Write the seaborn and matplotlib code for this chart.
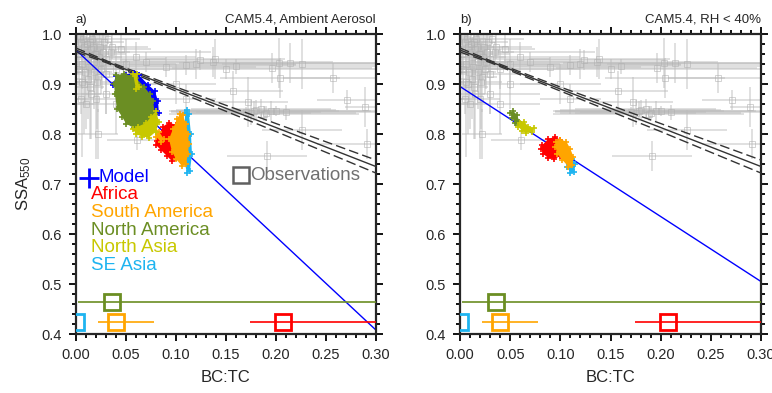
import matplotlib
matplotlib.use("Agg")
import matplotlib.pyplot as plt
import matplotlib.ticker as mticker
import seaborn as sns
import numpy as np
import pandas as pd

# ---------------- data ----------------
# grey observational points (BC:TC, SSA) with error bars
obs_x = [0.005, 0.008, 0.010, 0.012, 0.015, 0.006, 0.018, 0.020, 0.003, 0.025,
         0.012, 0.022, 0.008, 0.030, 0.028, 0.016, 0.035, 0.040, 0.015, 0.010,
         0.020, 0.005, 0.045, 0.050, 0.060, 0.070,
         0.004, 0.007, 0.011, 0.014, 0.017, 0.019, 0.023, 0.026, 0.009, 0.013,
         0.002, 0.024, 0.027, 0.032, 0.006, 0.018, 0.014, 0.021, 0.030, 0.036,
         0.090, 0.120, 0.137, 0.124, 0.150, 0.196, 0.203, 0.214, 0.226, 0.204,
         0.257, 0.139, 0.160, 0.110,
         0.170, 0.180, 0.190, 0.200, 0.185, 0.175, 0.195, 0.210, 0.178, 0.188,
         0.271, 0.289, 0.157, 0.172,
         0.191, 0.226, 0.291, 0.061, 0.040, 0.030, 0.050, 0.022, 0.100, 0.110]
obs_y = [0.985, 0.975, 0.965, 0.955, 0.970, 0.940, 0.945, 0.960, 0.930, 0.930,
         0.910, 0.915, 0.900, 0.950, 0.985, 0.990, 0.965, 0.930, 0.880, 0.860,
         0.870, 0.870, 0.970, 0.940, 0.955, 0.945,
         0.995, 0.990, 0.980, 0.985, 0.975, 0.960, 0.955, 0.945, 0.925, 0.935,
         0.960, 0.975, 0.965, 0.990, 0.905, 0.925, 0.895, 0.905, 0.920, 0.975,
         0.935, 0.940, 0.944, 0.948, 0.930, 0.932, 0.942, 0.942, 0.940, 0.912,
         0.912, 0.950, 0.936, 0.938,
         0.845, 0.848, 0.842, 0.846, 0.850, 0.843, 0.847, 0.844, 0.846, 0.841,
         0.868, 0.854, 0.886, 0.864,
         0.756, 0.808, 0.780, 0.788, 0.860, 0.880, 0.900, 0.800, 0.900, 0.870]
obs_xerr = [0.005, 0.008, 0.010, 0.012, 0.015, 0.006, 0.020, 0.030, 0.003, 0.025,
            0.012, 0.015, 0.010, 0.060, 0.020, 0.010, 0.100, 0.080, 0.010, 0.008,
            0.020, 0.005, 0.030, 0.050, 0.060, 0.050,
            0.004, 0.007, 0.011, 0.014, 0.017, 0.019, 0.023, 0.026, 0.009, 0.013,
            0.002, 0.024, 0.027, 0.032, 0.006, 0.018, 0.014, 0.021, 0.030, 0.036,
            0.090, 0.100, 0.120, 0.080, 0.150, 0.100, 0.100, 0.090, 0.080, 0.060,
            0.050, 0.070, 0.140, 0.110,
            0.075, 0.080, 0.090, 0.100, 0.070, 0.060, 0.100, 0.090, 0.085, 0.095,
            0.030, 0.020, 0.050, 0.040,
            0.040, 0.040, 0.050, 0.030, 0.040, 0.050, 0.030, 0.020, 0.040, 0.030]
obs_yerr = [0.015, 0.020, 0.030, 0.040, 0.025, 0.050, 0.060, 0.030, 0.060, 0.050,
            0.080, 0.070, 0.100, 0.030, 0.015, 0.010, 0.020, 0.040, 0.090, 0.050,
            0.120, 0.030, 0.030, 0.050, 0.030, 0.020,
            0.005, 0.010, 0.020, 0.015, 0.025, 0.040, 0.045, 0.055, 0.070, 0.060,
            0.040, 0.025, 0.035, 0.010, 0.150, 0.075, 0.105, 0.095, 0.080, 0.025,
            0.020, 0.030, 0.030, 0.020, 0.020, 0.030, 0.050, 0.040, 0.050, 0.040,
            0.030, 0.040, 0.015, 0.020,
            0.010, 0.020, 0.015, 0.010, 0.020, 0.025, 0.020, 0.015, 0.020, 0.015,
            0.020, 0.040, 0.040, 0.050,
            0.030, 0.040, 0.030, 0.020, 0.060, 0.040, 0.050, 0.050, 0.040, 0.030]

# observational regression fit with confidence band
fit_x = [0.0, 0.03, 0.10, 0.20, 0.30]
fit_y = [0.968, 0.945, 0.890, 0.813, 0.735]
fit_hi = [0.972, 0.947, 0.894, 0.821, 0.748]
fit_lo = [0.964, 0.943, 0.886, 0.805, 0.722]

# model regression lines
model_line_x = [0.0, 0.30]
model_line_y_a = [0.968, 0.408]
model_line_y_b = [0.895, 0.505]

# regional observational means at the bottom (x, lower err, upper err, y)
reg_names = ["North America", "SE Asia", "South America", "Africa"]
reg_x = [0.036, 0.000, 0.040, 0.207]
reg_xlo = [0.034, 0.000, 0.018, 0.033]
reg_xhi = [0.290, 0.000, 0.038, 0.120]
reg_y = [0.465, 0.425, 0.425, 0.425]

# model clusters (outline points of each region's cloud), panel a
a_model_x = [0.040, 0.050, 0.058, 0.063, 0.072, 0.079, 0.082, 0.083, 0.078, 0.070, 0.045, 0.037]
a_model_y = [0.916, 0.919, 0.923, 0.918, 0.899, 0.886, 0.866, 0.842, 0.826, 0.830, 0.880, 0.898]
a_na_x = [0.040, 0.048, 0.056, 0.060, 0.068, 0.074, 0.077, 0.079, 0.076, 0.067, 0.058, 0.050, 0.046, 0.041, 0.039, 0.038]
a_na_y = [0.918, 0.920, 0.917, 0.912, 0.895, 0.880, 0.866, 0.840, 0.826, 0.808, 0.812, 0.821, 0.835, 0.850, 0.880, 0.900]
a_nas_x = [0.075, 0.080, 0.083, 0.080, 0.073, 0.066, 0.060, 0.057, 0.062, 0.070]
a_nas_y = [0.835, 0.846, 0.825, 0.805, 0.793, 0.795, 0.800, 0.810, 0.815, 0.822]
a_nas2_x = [0.057, 0.061, 0.063, 0.060]
a_nas2_y = [0.921, 0.920, 0.895, 0.890]
a_af_x = [0.082, 0.087, 0.093, 0.100, 0.102, 0.103, 0.100, 0.096, 0.091, 0.085, 0.080, 0.081]
a_af_y = [0.795, 0.815, 0.823, 0.818, 0.800, 0.770, 0.752, 0.746, 0.756, 0.768, 0.778, 0.786]
a_sa_x = [0.104, 0.107, 0.110, 0.112, 0.113, 0.112, 0.110, 0.106, 0.100, 0.096, 0.093, 0.097, 0.101]
a_sa_y = [0.840, 0.838, 0.820, 0.800, 0.780, 0.760, 0.740, 0.736, 0.750, 0.765, 0.790, 0.810, 0.830]
a_sa2_x = [0.076, 0.083, 0.088, 0.085, 0.080]
a_sa2_y = [0.820, 0.805, 0.790, 0.784, 0.795]
a_se_x = [0.109, 0.111, 0.113, 0.115, 0.116, 0.114, 0.111, 0.108, 0.109]
a_se_y = [0.842, 0.848, 0.840, 0.800, 0.760, 0.726, 0.722, 0.750, 0.800]

# panel b
b_na_x = [0.050, 0.053, 0.057, 0.059, 0.058, 0.055, 0.052]
b_na_y = [0.843, 0.846, 0.838, 0.825, 0.818, 0.822, 0.832]
b_nas_x = [0.060, 0.064, 0.068, 0.074, 0.072, 0.066, 0.062, 0.058]
b_nas_y = [0.822, 0.825, 0.815, 0.812, 0.805, 0.803, 0.806, 0.815]
b_af_x = [0.082, 0.088, 0.095, 0.100, 0.103, 0.100, 0.094, 0.088, 0.083, 0.081]
b_af_y = [0.778, 0.790, 0.795, 0.788, 0.770, 0.756, 0.750, 0.752, 0.760, 0.770]
b_sa_x = [0.096, 0.100, 0.106, 0.110, 0.113, 0.112, 0.108, 0.102, 0.097, 0.095]
b_sa_y = [0.785, 0.789, 0.785, 0.770, 0.755, 0.738, 0.735, 0.748, 0.760, 0.775]
b_se_x = [0.108, 0.112, 0.115, 0.114, 0.110, 0.107]
b_se_y = [0.748, 0.750, 0.740, 0.725, 0.722, 0.735]

legend_labels = ["Africa", "South America", "North America", "North Asia", "SE Asia"]

C_MODEL = "#0000ff"
C_AF = "#ff0000"
C_SA = "#ffa500"
C_NA = "#6b8e23"
C_NAS = "#c8c800"
C_SE = "#1eb4f0"
reg_colors = {"Africa": C_AF, "South America": C_SA, "North America": C_NA,
              "North Asia": C_NAS, "SE Asia": C_SE}

# ---------------- style ----------------
sns.set_style("ticks")
plt.rcParams["font.family"] = ["Liberation Sans", "DejaVu Sans"]
plt.rcParams["mathtext.fontset"] = "custom"
plt.rcParams["mathtext.rm"] = "Liberation Sans"
plt.rcParams["mathtext.it"] = "Liberation Sans"

fig = plt.figure(figsize=(7.72, 3.93), dpi=100)
ax_a = fig.add_axes([0.0984, 0.150, 0.3886, 0.7634])
ax_b = fig.add_axes([0.5959, 0.150, 0.3899, 0.7634])


def blob(ax, xs, ys, color, z):
    ax.fill(xs, ys, color=color, lw=0, zorder=z)
    df = pd.DataFrame({"x": xs, "y": ys})
    sns.scatterplot(data=df, x="x", y="y", ax=ax, marker="+", s=22,
                    color=color, linewidth=1.2, zorder=z, legend=False)


def base(ax, title_l, title_r, model_y):
    ax.errorbar(obs_x, obs_y, xerr=obs_xerr, yerr=obs_yerr, fmt="s", ms=4,
                mfc="none", mec="#b0b0b0", mew=0.7, ecolor="#bcbcbc",
                elinewidth=1.2, alpha=0.55, capsize=0, zorder=1)
    ax.plot(fit_x, fit_y, color="#333333", lw=1.0, zorder=3)
    ax.plot(fit_x, fit_hi, color="#333333", lw=1.0, dashes=(7, 3), zorder=3)
    ax.plot(fit_x, fit_lo, color="#333333", lw=1.0, dashes=(7, 3), zorder=3)
    sns.lineplot(x=model_line_x, y=model_y, ax=ax, color=C_MODEL, lw=1.0, zorder=2)
    for i, n in enumerate(reg_names):
        ax.errorbar([reg_x[i]], [reg_y[i]], xerr=[[reg_xlo[i]], [reg_xhi[i]]],
                    fmt="s", ms=11.5, mfc="none", mec=reg_colors[n], mew=2.0,
                    ecolor=reg_colors[n], elinewidth=1.2, capsize=0, zorder=5)


def finish(ax, title_l, title_r):
    ax.set_xlim(0, 0.30)
    ax.set_ylim(0.4, 1.0)
    ax.xaxis.set_major_locator(mticker.MultipleLocator(0.05))
    ax.xaxis.set_minor_locator(mticker.MultipleLocator(0.01))
    ax.yaxis.set_major_locator(mticker.MultipleLocator(0.1))
    ax.yaxis.set_minor_locator(mticker.MultipleLocator(0.02))
    ax.xaxis.set_major_formatter(mticker.FormatStrFormatter("%.2f"))
    ax.yaxis.set_major_formatter(mticker.FormatStrFormatter("%.1f"))
    ax.tick_params(which="both", direction="out", top=True, right=True,
                   labeltop=False, labelright=False, width=1.3, color="black")
    ax.tick_params(which="major", length=5, labelsize=10.5, pad=5)
    ax.tick_params(which="minor", length=3)
    for s in ax.spines.values():
        s.set_linewidth(1.6)
        s.set_visible(True)
    ax.set_xlabel("BC:TC", fontsize=12, labelpad=6)
    ax.set_ylabel("")
    ax.set_title(title_l, loc="left", fontsize=9.5, pad=8)
    ax.set_title(title_r, loc="right", fontsize=9.5, pad=8)


base(ax_a, "a)", "CAM5.4, Ambient Aerosol", model_line_y_a)
base(ax_b, "b)", "CAM5.4, RH < 40%", model_line_y_b)

# panel a clusters
blob(ax_a, a_model_x, a_model_y, C_MODEL, 6)
blob(ax_a, a_se_x, a_se_y, C_SE, 7)
blob(ax_a, a_af_x, a_af_y, C_AF, 8)
blob(ax_a, a_sa_x, a_sa_y, C_SA, 9)
blob(ax_a, a_sa2_x, a_sa2_y, C_SA, 9)
blob(ax_a, a_na_x, a_na_y, C_NA, 10)
blob(ax_a, a_nas_x, a_nas_y, C_NAS, 11)
blob(ax_a, a_nas2_x, a_nas2_y, C_NAS, 11)

# panel b clusters
blob(ax_b, b_se_x, b_se_y, C_SE, 7)
blob(ax_b, b_af_x, b_af_y, C_AF, 8)
blob(ax_b, b_sa_x, b_sa_y, C_SA, 9)
blob(ax_b, b_na_x, b_na_y, C_NA, 10)
blob(ax_b, b_nas_x, b_nas_y, C_NAS, 11)

finish(ax_a, "a)", "CAM5.4, Ambient Aerosol")
finish(ax_b, "b)", "CAM5.4, RH < 40%")
ax_a.set_ylabel(r"SSA$_{550}$", fontsize=12, labelpad=6)

# legend text in panel a
ax_a.plot([0.013], [0.713], marker="+", ms=15, mew=2.0, color=C_MODEL,
          clip_on=False, zorder=12)
ax_a.text(0.0225, 0.713, "Model", color=C_MODEL, fontsize=13.5, va="center", zorder=12)
leg_y = [0.680, 0.644, 0.608, 0.573, 0.538]
for lab, yy in zip(legend_labels, leg_y):
    ax_a.text(0.015, yy, lab, color=reg_colors[lab], fontsize=13.5, va="center", zorder=12)
ax_a.plot([0.165], [0.718], marker="s", ms=12, mfc="none", mec="#606060", mew=1.8, zorder=12)
ax_a.text(0.1745, 0.718, "Observations", color="#707070", fontsize=13.5, va="center", zorder=12)

fig.savefig("out.png", dpi=100)
